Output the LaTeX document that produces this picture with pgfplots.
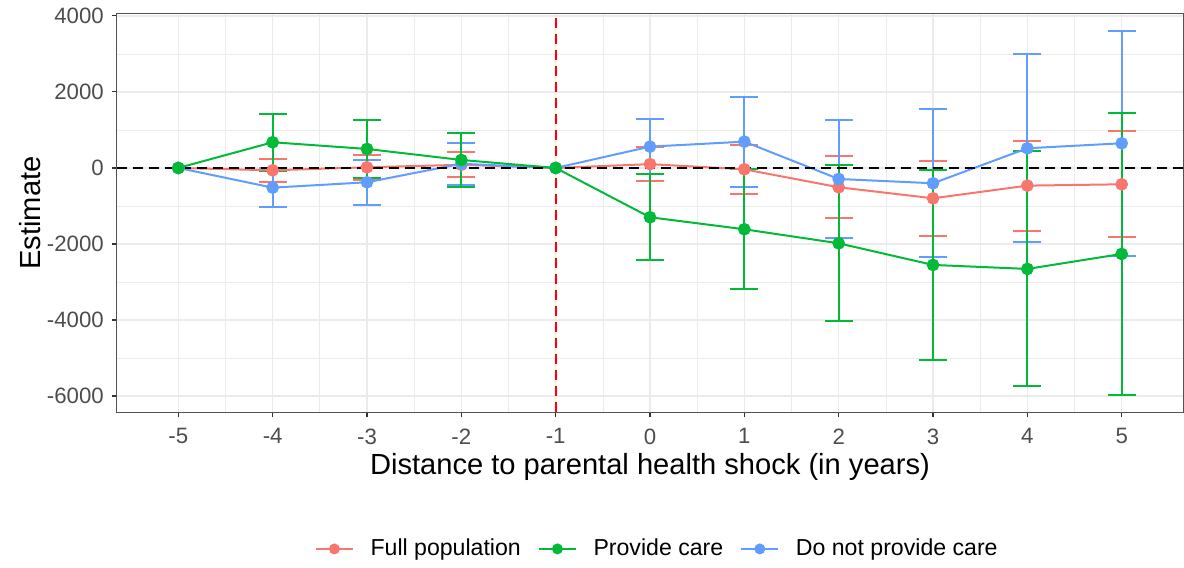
\documentclass[border=0pt]{standalone}
\usepackage{fontspec}
\setmainfont{Liberation Sans}
\usepackage{pgfplots}
\pgfplotsset{compat=1.18}
\definecolor{cred}{HTML}{F8766D}
\definecolor{cgreen}{HTML}{00BA38}
\definecolor{cblue}{HTML}{619CFF}
\definecolor{gridc}{HTML}{EBEBEB}
\definecolor{axc}{HTML}{333333}
\definecolor{tickc}{HTML}{4D4D4D}
\begin{document}
\begin{tikzpicture}
\begin{axis}[
 scale only axis, width=479.7pt, height=179.1pt,
 xmin=-5.65, xmax=5.65, ymin=-6420, ymax=4050,
 xtick={-5,...,5}, ytick={-6000,-4000,...,4000},
 minor x tick num=1, minor y tick num=1,
 minor tick length=0pt, major tick length=2.4pt,
 tick align=outside, tick pos=left,
 grid=both,
 major grid style={gridc, line width=0.6pt},
 minor grid style={gridc, line width=0.3pt},
 axis line style={axc!85, line width=0.45pt},
 tick style={axc, line width=0.5pt},
 ticklabel style={font=\fontsize{10}{12}\selectfont, text=tickc},
 xticklabel style={yshift=-1.5pt},
 /pgf/number format/assume math mode=true,
 /pgf/number format/1000 sep={},
 scaled y ticks=false,
 xlabel={Distance to parental health shock (in years)},
 ylabel={Estimate},
 label style={font=\fontsize{13.1}{15}\selectfont},
 xlabel style={at={(axis description cs:0.5,-0.138)}, anchor=center},
 ylabel style={at={(axis description cs:-0.0816,0.5)}, anchor=center},
 legend style={at={(0.508,-0.344)}, anchor=center, draw=none, fill=none,
   legend columns=-1, font=\fontsize{10.4}{12}\selectfont,
   /tikz/every odd column/.append style={column sep=5.5pt},
   /tikz/every even column/.append style={column sep=5.7pt}},
 legend image code/.code={\draw[mark repeat=2,mark phase=2,#1] plot coordinates {(0pt,0pt) (8.3pt,0pt) (16.6pt,0pt)};},
]
% error bars
\addplot[forget plot, only marks, mark=none, error bars/.cd, y dir=both, y explicit,
  error mark=|,
  error bar style={cred, line width=0.9pt},
  error mark options={cred, mark size=6.3pt, line width=0.9pt}]
 coordinates {(-4,-62) +- (0,298) (-3,18) +- (0,324) (-2,83) +- (0,329)
 (0,100) +- (0,456) (1,-35) +- (0,645) (2,-508) +- (0,811) (3,-798) +- (0,982)
 (4,-465) +- (0,1184) (5,-430) +- (0,1390)};
\addplot[forget plot, only marks, mark=none, error bars/.cd, y dir=both, y explicit,
  error mark=|,
  error bar style={cblue, line width=0.9pt},
  error mark options={cblue, mark size=6.3pt, line width=0.9pt}]
 coordinates {(-4,-518) +- (0,508) (-3,-377) +- (0,590) (-2,110) +- (0,556)
 (0,561) +- (0,728) (1,692) +- (0,1180) (2,-290) +- (0,1556) (3,-403) +- (0,1950)
 (4,518) +- (0,2468) (5,649) +- (0,2963)};
\addplot[forget plot, only marks, mark=none, error bars/.cd, y dir=both, y explicit,
  error mark=|,
  error bar style={cgreen, line width=0.9pt},
  error mark options={cgreen, mark size=6.3pt, line width=0.9pt}]
 coordinates {(-4,676) +- (0,755) (-3,500) +- (0,765) (-2,210) +- (0,700)
 (0,-1297) +- (0,1133) (1,-1613) +- (0,1580) (2,-1982) +- (0,2050) (3,-2551) +- (0,2500)
 (4,-2656) +- (0,3090) (5,-2262) +- (0,3700)};
% lines and points
\addplot[forget plot, cred, line width=0.9pt, mark=*, mark size=2.4pt]
 coordinates {(-5,0) (-4,-62) (-3,18) (-2,83) (-1,0) (0,100) (1,-35) (2,-508) (3,-798) (4,-465) (5,-430)};
\addplot[forget plot, cblue, line width=0.9pt, mark=*, mark size=2.4pt]
 coordinates {(-5,0) (-4,-518) (-3,-377) (-2,110) (-1,0) (0,561) (1,692) (2,-290) (3,-403) (4,518) (5,649)};
\addplot[forget plot, cgreen, line width=0.9pt, mark=*, mark size=2.4pt]
 coordinates {(-5,0) (-4,676) (-3,500) (-2,210) (-1,0) (0,-1297) (1,-1613) (2,-1982) (3,-2551) (4,-2656) (5,-2262)};
% reference lines
\addplot[forget plot, black, line width=1.1pt, dash pattern=on 4.5pt off 2.7pt]
 coordinates {(-5.65,0) (5.65,0)};
\addplot[forget plot, red, line width=1.0pt, dash pattern=on 4.5pt off 2.7pt]
 coordinates {(-1,-6420) (-1,4050)};
% legend
\addlegendimage{cred, line width=0.9pt, mark=*, mark size=2pt}
\addlegendentry{Full population}
\addlegendimage{cgreen, line width=0.9pt, mark=*, mark size=2pt}
\addlegendentry{Provide care}
\addlegendimage{cblue, line width=0.9pt, mark=*, mark size=2pt}
\addlegendentry{Do not provide care}
\end{axis}
\path (current axis.south west) ++(-52.65pt,-69.3pt) rectangle ([shift={(0.45pt,6.3pt)}]current axis.north east);
\end{tikzpicture}
\end{document}
